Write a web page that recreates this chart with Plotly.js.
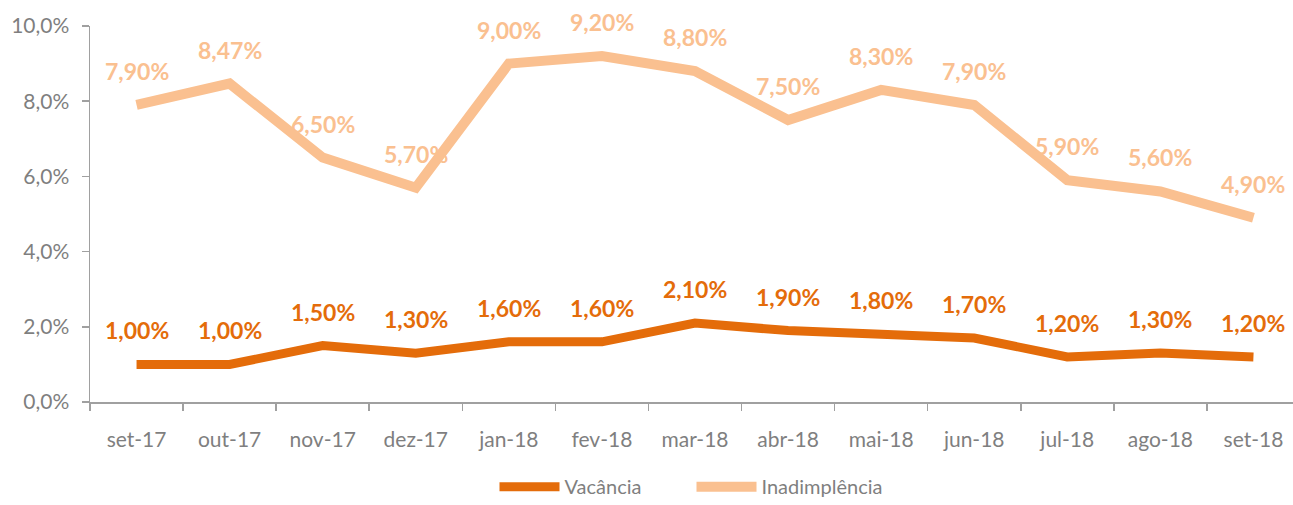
<!DOCTYPE html>
<html>
<head>
<meta charset="utf-8">
<script src="https://cdn.plot.ly/plotly-3.0.1.min.js"></script>
<style>html,body{margin:0;padding:0;background:#fff;}#chart{width:1293px;height:505px;}</style>
</head>
<body>
<div id="chart"></div>
<script>
const categories = ["set-17","out-17","nov-17","dez-17","jan-18","fev-18","mar-18","abr-18","mai-18","jun-18","jul-18","ago-18","set-18"];
const vacancia = [1.00,1.00,1.50,1.30,1.60,1.60,2.10,1.90,1.80,1.70,1.20,1.30,1.20];
const inadimplencia = [7.90,8.47,6.50,5.70,9.00,9.20,8.80,7.50,8.30,7.90,5.90,5.60,4.90];
const yTickVals = [0,2,4,6,8,10];
const yTickText = ["0,0%","2,0%","4,0%","6,0%","8,0%","10,0%"];

const cVac = "#E46C0A";
const cInad = "#FAC090";
const fmt = v => v.toFixed(2).replace(".", ",") + "%";
const FONT = "Lato, 'Open Sans', sans-serif";

const traces = [
  {x: categories, y: vacancia, name: "Vacância", type: "scatter", mode: "lines",
   line: {color: cVac, width: 9}, hoverinfo: "skip"},
  {x: categories, y: inadimplencia, name: "Inadimplência", type: "scatter", mode: "lines",
   line: {color: cInad, width: 10}, hoverinfo: "skip"}
];

const annotations = [];
function addLabels(vals, color) {
  vals.forEach((v, i) => annotations.push({
    x: categories[i], y: v, xref: "x", yref: "y", text: fmt(v), showarrow: false,
    yshift: 34, font: {family: FONT, size: 23, color: color, weight: "bold"}
  }));
}
addLabels(vacancia, cVac);
addLabels(inadimplencia, cInad);

const layout = {
  width: 1293, height: 505,
  margin: {l: 90, r: 0, t: 26, b: 103},
  paper_bgcolor: "#fff", plot_bgcolor: "#fff",
  font: {family: FONT, color: "#7f7f7f", size: 21},
  showlegend: true,
  legend: {orientation: "h", x: 0.5, xanchor: "center", xref: "paper",
           yref: "container", y: 0.075, yanchor: "top",
           font: {family: FONT, size: 20, color: "#7f7f7f"}, itemwidth: 60, entrywidth: 122,
           traceorder: "normal"},
  xaxis: {type: "category", range: [-0.5, 12.425], tickson: "boundaries", ticks: "outside",
          ticklen: 7, tickcolor: "#a0a0a0", tickwidth: 1.5, showline: true, linecolor: "#a0a0a0",
          linewidth: 1.5, showgrid: false, zeroline: false, fixedrange: true, ticklabelstandoff: 18,
          automargin: false,
          tickfont: {family: FONT, size: 21, color: "#7f7f7f"}},
  yaxis: {range: [0, 10], tickvals: yTickVals, ticktext: yTickText, ticks: "outside",
          ticklen: 7, tickcolor: "#a0a0a0", tickwidth: 1.5, showline: true, linecolor: "#a0a0a0",
          linewidth: 1.5, showgrid: false, zeroline: false, fixedrange: true, ticklabelstandoff: 8,
          automargin: false,
          tickfont: {family: FONT, size: 21, color: "#7f7f7f"}},
  annotations: annotations
};

Plotly.newPlot("chart", traces, layout, {displayModeBar: false, staticPlot: true});
</script>
</body>
</html>
